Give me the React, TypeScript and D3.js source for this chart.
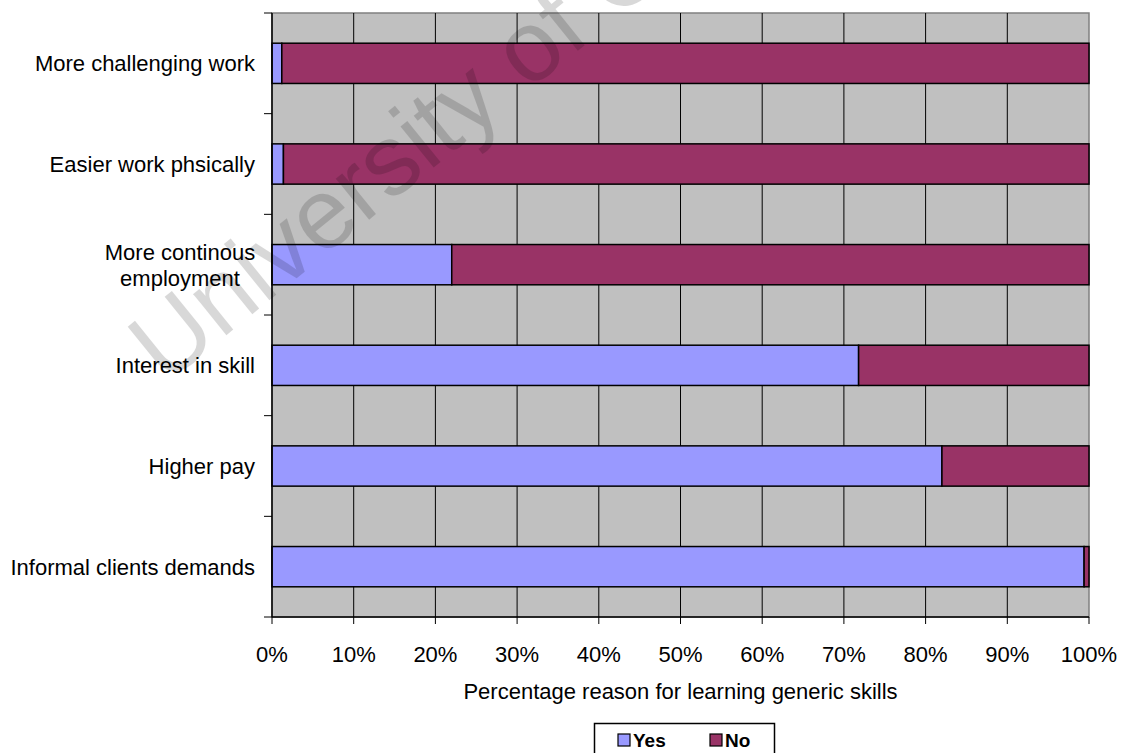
import React from "react";
import * as d3 from "d3";

const categories = [
  "More challenging work",
  "Easier work phsically",
  "More continous employment",
  "Interest in skill",
  "Higher pay",
  "Informal clients demands",
];
const yesValues = [1.2, 1.4, 22, 71.8, 82, 99.4];
const noValues = yesValues.map((v) => 100 - v);
const xTicks = [0, 10, 20, 30, 40, 50, 60, 70, 80, 90, 100];
const seriesNames = ["Yes", "No"];
const seriesColors = ["#9999FF", "#993366"];

const labelLines: Record<string, string[]> = {
  "More continous employment": ["More continous", "employment"],
};

export default function App() {
  const W = 1124, H = 753;
  const left = 272, right = 1089, top = 13, bottom = 617;
  const x = d3.scaleLinear().domain([0, 100]).range([left, right]);
  const y = d3.scaleBand().domain(categories).range([top, bottom]).paddingInner(0.6).paddingOuter(0.3);
  const yOuter = d3.scaleBand().domain(categories).range([top, bottom]);
  const font = "'Liberation Sans', Arial, sans-serif";
  const fs = 22;

  return (
    <svg width={W} height={H} style={{ position: "absolute", left: 0, top: 0 }} fontFamily={font}>
      <rect x={0} y={0} width={W} height={H} fill="#fff" />
      <rect x={left} y={top} width={right - left} height={bottom - top} fill="#C0C0C0" stroke="#808080" strokeWidth={1.5} />
      {xTicks.slice(1, -1).map((t) => (
        <line key={t} x1={x(t)} x2={x(t)} y1={top} y2={bottom} stroke="#000" strokeWidth={1} />
      ))}
      {categories.map((c, i) => {
        const by = y(c)!;
        const bh = y.bandwidth();
        const vals = [yesValues[i], noValues[i]];
        let acc = 0;
        return (
          <g key={c}>
            {vals.map((v, j) => {
              const x0 = x(acc);
              acc += v;
              return (
                <rect key={j} x={x0} y={by} width={x(acc) - x0} height={bh} fill={seriesColors[j]} stroke="#000" strokeWidth={1.5} />
              );
            })}
          </g>
        );
      })}
      {/* axes */}
      <line x1={left} x2={left} y1={top} y2={bottom} stroke="#000" strokeWidth={1.5} />
      <line x1={left} x2={right} y1={bottom} y2={bottom} stroke="#000" strokeWidth={1.5} />
      {categories.map((c) => (
        <line key={"yt" + c} x1={left - 8} x2={left} y1={yOuter(c)!} y2={yOuter(c)!} stroke="#000" strokeWidth={1} />
      ))}
      <line x1={left - 8} x2={left} y1={bottom} y2={bottom} stroke="#000" strokeWidth={1} />
      {xTicks.map((t) => (
        <g key={"xt" + t}>
          <line x1={x(t)} x2={x(t)} y1={bottom} y2={bottom + 7} stroke="#000" strokeWidth={1} />
          <text x={x(t)} y={662} textAnchor="middle" fontSize={fs} fill="#000">{t}%</text>
        </g>
      ))}
      {categories.map((c) => {
        const cy = yOuter(c)! + yOuter.bandwidth() / 2;
        const lines = labelLines[c] || [c];
        if (lines.length === 1) {
          return (
            <text key={"l" + c} x={255} y={cy + 8} textAnchor="end" fontSize={fs} fill="#000">{c}</text>
          );
        }
        return (
          <text key={"l" + c} textAnchor="middle" fontSize={fs} fill="#000">
            {lines.map((l, k) => (
              <tspan key={k} x={180} y={cy + 8 + (k - (lines.length - 1) / 2) * 26}>{l}</tspan>
            ))}
          </text>
        );
      })}
      <text x={(left + right) / 2} y={699} textAnchor="middle" fontSize={fs} fill="#000">Percentage reason for learning generic skills</text>
      {/* legend */}
      <rect x={594.5} y={723.5} width={180} height={32} fill="#fff" stroke="#000" strokeWidth={1.5} />
      {seriesNames.map((s, i) => (
        <g key={s} transform={`translate(${618 + i * 92},0)`}>
          <rect x={0} y={734} width={12} height={12} fill={seriesColors[i]} stroke="#000" strokeWidth={1.2} />
          <text x={15} y={747} fontSize={19} fontWeight="bold" fill="#000">{s}</text>
        </g>
      ))}
      {/* watermark */}
      <text transform="translate(165,385) rotate(-39)" fontSize={100} fontFamily={font} fill="#000" opacity={0.15}>University of Cape Town</text>
    </svg>
  );
}
